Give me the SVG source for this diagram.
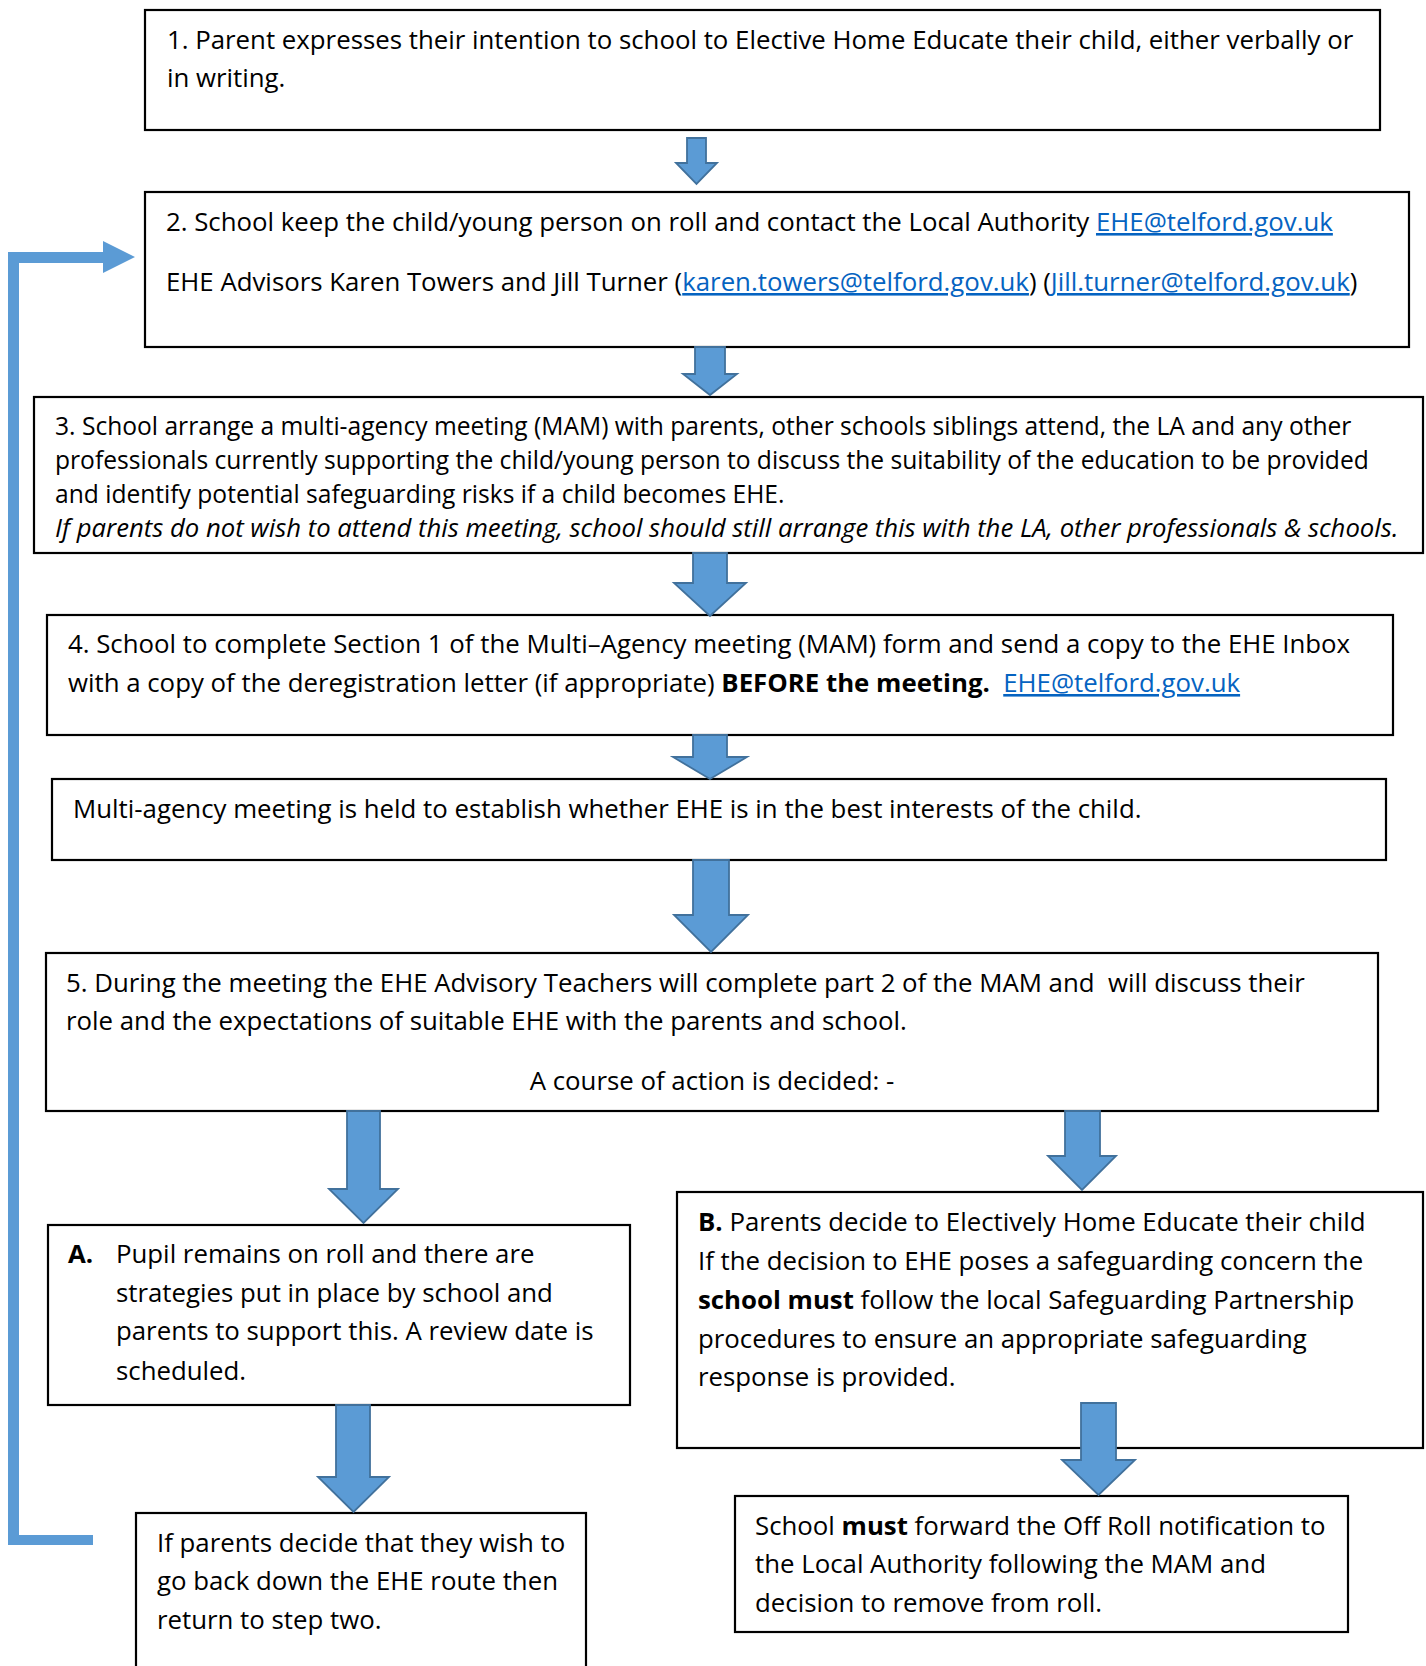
<svg xmlns="http://www.w3.org/2000/svg" width="1426" height="1666" viewBox="0 0 1426 1666">
<style>
.box{fill:#fff;stroke:#000;stroke-width:2.2}
.arr{fill:#5B9BD5;stroke:#41719C;stroke-width:1.8}
text{font-family:"Open Sans","Noto Sans",sans-serif;font-size:25.8px;fill:#000}
.s{font-size:24.6px}
.lk{fill:#0563C1;text-decoration:underline}
.b{font-weight:bold}
.i{font-style:italic;font-size:25.7px}
</style>
<rect width="1426" height="1666" fill="#fff"/>
<g id="n1">
<rect class="box" x="145" y="10" width="1235" height="120"/>
<text x="167" y="49">1. Parent expresses their intention to school to Elective Home Educate their child, either verbally or</text>
<text x="167" y="87">in writing.</text>
</g>
<g id="n2">
<rect class="box" x="145" y="192" width="1264" height="155"/>
<text x="166" y="231">2. School keep the child/young person on roll and contact the Local Authority <tspan class="lk">EHE@telford.gov.uk</tspan></text>
<text x="166" y="291">EHE Advisors Karen Towers and Jill Turner (<tspan class="lk">karen.towers@telford.gov.uk</tspan>) (<tspan class="lk">Jill.turner@telford.gov.uk</tspan>)</text>
</g>
<g id="n3">
<rect class="box" x="34" y="397" width="1389" height="156"/>
<text class="s" x="55" y="435">3. School arrange a multi-agency meeting (MAM) with parents, other schools siblings attend, the LA and any other</text>
<text class="s" x="55" y="469">professionals currently supporting the child/young person to discuss the suitability of the education to be provided</text>
<text class="s" x="55" y="503">and identify potential safeguarding risks if a child becomes EHE.</text>
<text x="55" y="537" class="i">If parents do not wish to attend this meeting, school should still arrange this with the LA, other professionals &amp; schools.</text>
</g>
<g id="n4">
<rect class="box" x="47" y="615" width="1346" height="120"/>
<text x="68" y="653">4. School to complete Section 1 of the Multi–Agency meeting (MAM) form and send a copy to the EHE Inbox</text>
<text x="68" y="692" xml:space="preserve">with a copy of the deregistration letter (if appropriate) <tspan class="b">BEFORE the meeting.</tspan>  <tspan class="lk">EHE@telford.gov.uk</tspan></text>
</g>
<g id="n-mam">
<rect class="box" x="52" y="779" width="1334" height="81"/>
<text x="73" y="818">Multi-agency meeting is held to establish whether EHE is in the best interests of the child.</text>
</g>
<g id="n5">
<rect class="box" x="46" y="953" width="1332" height="158"/>
<text x="66" y="992" xml:space="preserve">5. During the meeting the EHE Advisory Teachers will complete part 2 of the MAM and  will discuss their</text>
<text x="66" y="1030">role and the expectations of suitable EHE with the parents and school.</text>
<text x="712" y="1090" text-anchor="middle">A course of action is decided: -</text>
</g>
<g id="nA">
<rect class="box" x="48" y="1225" width="582" height="180"/>
<text x="68" y="1263" class="b">A.</text>
<text x="116" y="1263">Pupil remains on roll and there are</text>
<text x="116" y="1302">strategies put in place by school and</text>
<text x="116" y="1340">parents to support this. A review date is</text>
<text x="116" y="1380">scheduled.</text>
</g>
<g id="nB">
<rect class="box" x="677" y="1192" width="746" height="256"/>
<text x="698" y="1231"><tspan class="b">B.</tspan> Parents decide to Electively Home Educate their child</text>
<text x="698" y="1270">If the decision to EHE poses a safeguarding concern the</text>
<text x="698" y="1309"><tspan class="b">school must</tspan> follow the local Safeguarding Partnership</text>
<text x="698" y="1348">procedures to ensure an appropriate safeguarding</text>
<text x="698" y="1386">response is provided.</text>
</g>
<g id="nC">
<rect class="box" x="136" y="1513" width="450" height="170"/>
<text x="157" y="1552">If parents decide that they wish to</text>
<text x="157" y="1590">go back down the EHE route then</text>
<text x="157" y="1629">return to step two.</text>
</g>
<g id="nD">
<rect class="box" x="735" y="1496" width="613" height="136"/>
<text x="755" y="1535">School <tspan class="b">must</tspan> forward the Off Roll notification to</text>
<text x="755" y="1573">the Local Authority following the MAM and</text>
<text x="755" y="1612">decision to remove from roll.</text>
</g>
<g id="connectors">
<polygon class="arr" points="687,138 706,138 706,163 717,163 696.5,184 676,163 687,163"/>
<polygon class="arr" points="695,347 725,347 725,374 737,374 710,395 683,374 695,374"/>
<polygon class="arr" points="693,553 727,553 727,583 746,583 710,616 674,583 693,583"/>
<polygon class="arr" points="693,735 727,735 727,757 747,757 710,779 673,757 693,757"/>
<polygon class="arr" points="693,860 729,860 729,915 748,915 711,952 674,915 693,915"/>
<polygon class="arr" points="347,1111 380,1111 380,1189 398,1189 363.5,1223 329,1189 347,1189"/>
<polygon class="arr" points="1065,1111 1100,1111 1100,1156 1116,1156 1082,1190 1048,1156 1065,1156"/>
<polygon class="arr" points="336,1405 370,1405 370,1477 389,1477 353.5,1512 318,1477 336,1477"/>
<polygon class="arr" points="1081,1403 1116,1403 1116,1460 1135,1460 1098.5,1495 1062,1460 1081,1460"/>
<polygon fill="#5B9BD5" points="8,252 103,252 103,241 135,257 103,273 103,263 19,263 19,1535 93,1535 93,1545 8,1545"/>
</g>
</svg>
